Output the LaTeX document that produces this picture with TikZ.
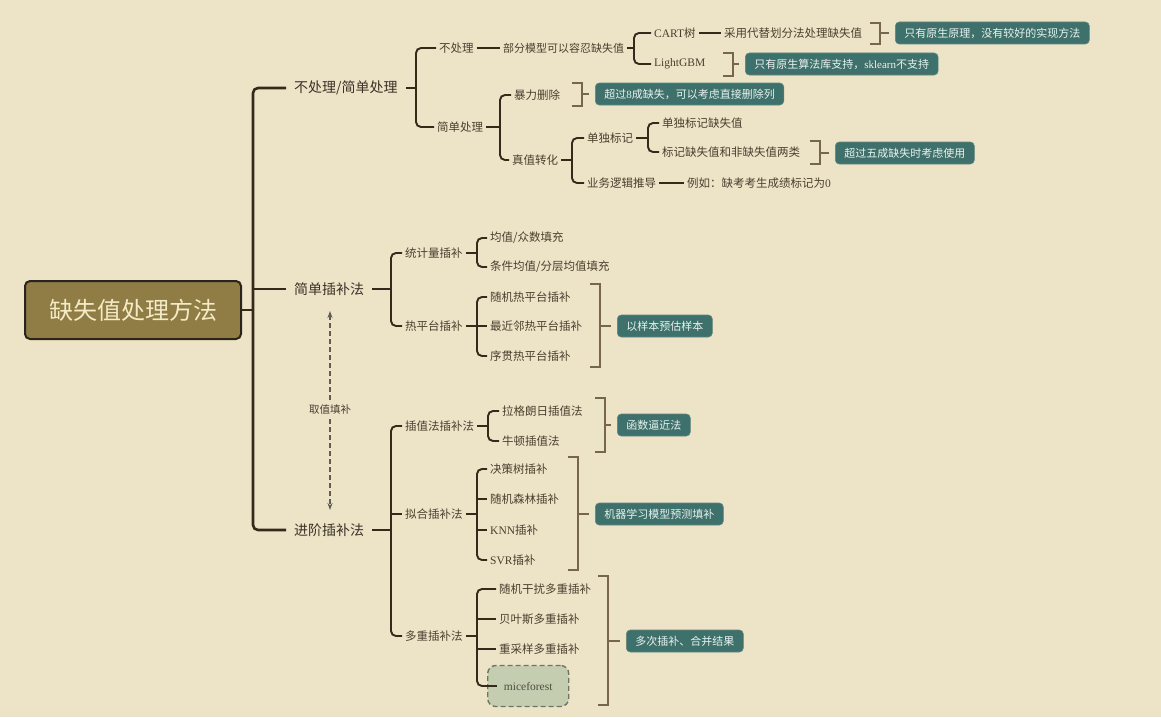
\documentclass[tikz,border=0pt]{standalone}
\usepackage{fontspec}
\setmainfont{Noto Sans CJK SC}
\newfontfamily\lat{Liberation Serif}
\usetikzlibrary{arrows.meta}
\definecolor{bg}{HTML}{EDE4C8}
\definecolor{ln}{HTML}{35291A}
\definecolor{tx}{HTML}{4A3F2F}
\definecolor{tx1}{HTML}{3A3026}
\definecolor{bk}{HTML}{76664C}
\definecolor{cf}{HTML}{3E716C}
\definecolor{ct}{HTML}{EAF2EE}
\definecolor{rf}{HTML}{8F7D45}
\definecolor{rb}{HTML}{2B2419}
\definecolor{rt}{HTML}{F4EBC6}
\definecolor{mf}{HTML}{C5CDB0}
\definecolor{mb}{HTML}{707465}
\definecolor{mt}{HTML}{4D4D3D}
\definecolor{ar}{HTML}{5F5F4F}
% parent, spine, first child, last child
\newcommand\fork[5][br]{%
  \draw[#1,sharp corners] (#2.east) -- (#2.east -| #3);
  \draw[#1] (#4.west) -| (#2.east -| #3) |- (#5.west);}
% spine, list of middle children
\newcommand\midkids[3][br]{%
  \foreach \c in {#3}{\draw[#1,sharp corners] (#2 |- \c.west) -- (\c.west);}}
\newcommand\mybrk[4]{%
  \draw[brk] (#1-10,#2) -- (#1,#2) -- (#1,#3) -- (#1-10,#3);
  \path (#1,0) coordinate (bx#4);
  \draw[brk] (bx#4 |- #4.west) -- ([xshift=-6pt]#4.west);}
\begin{document}
\begin{tikzpicture}[x=1pt,y=-1pt,
  root/.style={draw=rb,line width=2pt,fill=rf,rounded corners=5pt,minimum width=216pt,minimum height=58pt,text=rt,font=\fontsize{24}{28}\selectfont},
  l1/.style={anchor=west,inner xsep=8pt,text=tx1,font=\fontsize{14}{16}\selectfont},
  lbl/.style={anchor=west,inner xsep=3pt,inner ysep=2pt,text=tx,font=\fontsize{11.5}{13}\selectfont},
  call/.style={anchor=west,fill=cf,draw=cf!85!white,line width=0.6pt,rounded corners=4pt,text=ct,inner xsep=9pt,minimum height=22pt,font=\fontsize{11}{13}\selectfont},
  br0/.style={draw=ln,line width=2.6pt,rounded corners=5pt},
  br/.style={draw=ln,line width=1.9pt,rounded corners=5pt},
  brk/.style={draw=bk,line width=1.5pt},
  darr/.style={draw=ar,line width=1.2pt,dash pattern=on 5pt off 3pt,{Stealth[length=7pt,width=5pt]}-{Stealth[length=7pt,width=5pt]}},
  mice/.style={anchor=west,draw=mb,fill=mf,line width=1.4pt,dash pattern=on 5pt off 3pt,rounded corners=8pt,minimum width=81pt,minimum height=41pt,text=mt,font=\fontsize{11.5}{13}\selectfont}]
\useasboundingbox[fill=bg] (0,0) rectangle (1161,717);
% spine coordinates
\coordinate (s0) at (253,0);
\coordinate (sA) at (416,0);
\coordinate (sA11) at (634,0);
\coordinate (sA2) at (500,0);
\coordinate (sA22) at (572,0);
\coordinate (sA221) at (648,0);
\coordinate (sB) at (391,0);
\coordinate (sB1) at (477,0);
\coordinate (sB2) at (477,0);
\coordinate (sC) at (391,0);
\coordinate (sC1) at (488,0);
\coordinate (sC2) at (477,0);
\coordinate (sC3) at (477,0);
% root and level 1
\node[root] (R) at (133,310) {缺失值处理方法};
\node[l1] (A) at (286,88) {不处理/简单处理};
\node[l1] (B) at (286,289) {简单插补法};
\node[l1] (C) at (286,530) {进阶插补法};
% branch A
\node[lbl] (A1) at (436,48) {不处理};
\node[lbl] (A2) at (434,127) {简单处理};
\node[lbl,font=\fontsize{11}{13}\selectfont] (A11) at (500,48) {部分模型可以容忍缺失值};
\node[lbl] (A111) at (651,33) {{\lat CART}树};
\node[lbl] (A112) at (651,64) {\lat LightGBM};
\node[lbl] (A1111) at (721,33) {采用代替划分法处理缺失值};
\node[call] (kA1) at (895,33) {只有原生原理，没有较好的实现方法};
\node[call] (kA2) at (745,64) {只有原生算法库支持，{\lat sklearn}不支持};
\node[lbl] (A21) at (511,95) {暴力删除};
\node[lbl] (A22) at (509,160) {真值转化};
\node[call] (kA3) at (595,94) {超过{\lat 8}成缺失，可以考虑直接删除列};
\node[lbl] (A221) at (584,138) {单独标记};
\node[lbl] (A222) at (584,183) {业务逻辑推导};
\node[lbl] (A2211) at (659,123) {单独标记缺失值};
\node[lbl] (A2212) at (659,152) {标记缺失值和非缺失值两类};
\node[call] (kA4) at (835,153) {超过五成缺失时考虑使用};
\node[lbl] (A2221) at (684,183) {例如：缺考考生成绩标记为{\lat 0}};
% branch B
\node[lbl] (B1) at (402,253) {统计量插补};
\node[lbl] (B2) at (402,326) {热平台插补};
\node[lbl] (B11) at (487,238) {均值/众数填充};
\node[lbl] (B12) at (487,267) {条件均值/分层均值填充};
\node[lbl] (B21) at (487,297) {随机热平台插补};
\node[lbl] (B22) at (487,326) {最近邻热平台插补};
\node[lbl] (B23) at (487,356) {序贯热平台插补};
\node[call] (kB) at (617,326) {以样本预估样本};
% branch C
\node[lbl] (C1) at (402,426) {插值法插补法};
\node[lbl] (C2) at (402,514) {拟合插补法};
\node[lbl] (C3) at (402,636) {多重插补法};
\node[lbl] (C11) at (499,411) {拉格朗日插值法};
\node[lbl] (C12) at (499,441) {牛顿插值法};
\node[call] (kC1) at (617,425) {函数逼近法};
\node[lbl] (C21) at (487,469) {决策树插补};
\node[lbl] (C22) at (487,499) {随机森林插补};
\node[lbl] (C23) at (487,530) {{\lat KNN}插补};
\node[lbl] (C24) at (487,560) {{\lat SVR}插补};
\node[call] (kC2) at (595,514) {机器学习模型预测填补};
\node[lbl] (C31) at (496,589) {随机干扰多重插补};
\node[lbl] (C32) at (496,619) {贝叶斯多重插补};
\node[lbl] (C33) at (496,649) {重采样多重插补};
\node[mice] (C34) at (487,686) {\lat miceforest};
\node[inner sep=0pt,minimum size=0pt] (C34a) at ([xshift=10pt]C34.west) {};
\node[call] (kC3) at (626,641) {多次插补、合并结果};
% connectors
\fork[br0]{R}{s0}{A}{C}
\midkids[br0]{s0}{B}
\fork{A}{sA}{A1}{A2}
\draw[br] (A1) -- (A11);
\fork{A11}{sA11}{A111}{A112}
\draw[br] (A111) -- (A1111);
\fork{A2}{sA2}{A21}{A22}
\fork{A22}{sA22}{A221}{A222}
\fork{A221}{sA221}{A2211}{A2212}
\draw[br] (A222) -- (A2221);
\fork{B}{sB}{B1}{B2}
\fork{B1}{sB1}{B11}{B12}
\fork{B2}{sB2}{B21}{B23}
\midkids{sB2}{B22}
\fork{C}{sC}{C1}{C3}
\midkids{sC}{C2}
\fork{C1}{sC1}{C11}{C12}
\fork{C2}{sC2}{C21}{C24}
\midkids{sC2}{C22,C23}
\fork{C3}{sC3}{C31}{C34a}
\midkids{sC3}{C32,C33}
% brackets
\mybrk{880}{23}{44}{kA1}
\mybrk{733}{53}{76}{kA2}
\mybrk{582}{83}{106}{kA3}
\mybrk{820}{141}{164}{kA4}
\mybrk{600}{284}{367}{kB}
\mybrk{605}{398}{452}{kC1}
\mybrk{578}{457}{570}{kC2}
\mybrk{608}{576}{705}{kC3}
% dashed relation
\coordinate (d1) at (330,311);
\coordinate (d2) at (330,510);
\draw[darr] (d1) -- (d2);
\node[fill=bg,inner sep=2pt,text=tx,font=\fontsize{10.5}{12}\selectfont] (dl) at (330,410) {取值填补};
\end{tikzpicture}
\end{document}
